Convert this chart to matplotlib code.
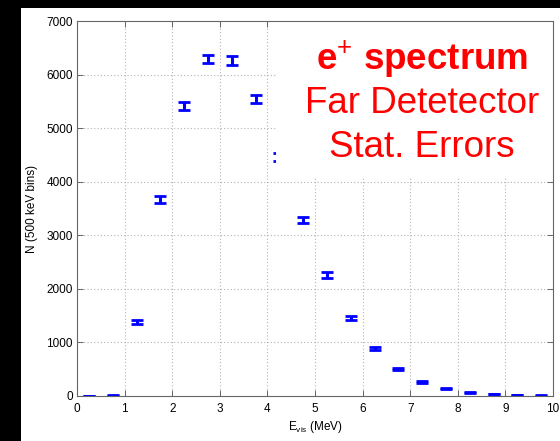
import matplotlib
matplotlib.use("Agg")
import matplotlib.pyplot as plt
from matplotlib.patches import Rectangle

plt.rcParams['font.family'] = ['Liberation Sans', 'DejaVu Sans']
plt.rcParams['mathtext.fontset'] = 'custom'
plt.rcParams['mathtext.rm'] = 'Liberation Sans'
plt.rcParams['mathtext.it'] = 'Liberation Sans:italic'
plt.rcParams['mathtext.bf'] = 'Liberation Sans:bold'

# Visible-energy bin centres (MeV) and counts per 500 keV bin
energy = [0.25, 0.75, 1.25, 1.75, 2.25, 2.75, 3.25, 3.75, 4.25, 4.75,
          5.25, 5.75, 6.25, 6.75, 7.25, 7.75, 8.25, 8.75, 9.25, 9.75]
counts = [5, 10, 1390, 3670, 5415, 6290, 6260, 5550, 4460, 3290,
          2260, 1450, 880, 500, 265, 140, 70, 35, 18, 8]
stat_err = [2, 3, 37, 61, 74, 79, 79, 75, 67, 57,
            48, 38, 30, 22, 16, 12, 8, 6, 4, 3]

xticks = list(range(0, 11))
yticks = list(range(0, 7001, 1000))

fig = plt.figure(figsize=(5.6, 4.41), dpi=100, facecolor='black')
fig.patches.append(Rectangle((21 / 560, 0), 1 - 21 / 560, 1 - 8 / 441,
                             transform=fig.transFigure, facecolor='white',
                             edgecolor='none', zorder=-5))

ax = fig.add_axes([77 / 560, 45 / 441, 476 / 560, 375 / 441])
ax.set_zorder(1)
ax.set_xlim(0, 10)
ax.set_ylim(0, 7000)
ax.set_xticks(xticks)
ax.set_yticks(yticks)

# dotted grid drawn beneath the data and the label box
for xv in xticks[1:-1]:
    ax.axvline(xv, color='#b4b4b4', linestyle=(0, (1, 2)), linewidth=0.8, zorder=0.5)
for yv in yticks[1:-1]:
    ax.axhline(yv, color='#b4b4b4', linestyle=(0, (1, 2)), linewidth=0.8, zorder=0.5)

ax.errorbar(energy, counts, yerr=stat_err, fmt='none', ecolor='#0000ff',
            elinewidth=2.2, capsize=4.2, capthick=2.0, zorder=2.0)

# white label panel in the upper-right corner
ax.add_patch(Rectangle((0.418, 0.584), 0.582, 0.416, transform=ax.transAxes,
                       facecolor='white', edgecolor='none', zorder=2.2))
ax.text(0.725, 0.869, r'e$^{+}$ spectrum', transform=ax.transAxes, color='#ff0000',
        fontsize=26.5, fontweight='bold', ha='center', va='baseline', zorder=3)
ax.text(0.725, 0.755, 'Far Detetector', transform=ax.transAxes, color='#ff0000',
        fontsize=26.5, ha='center', va='baseline', zorder=3)
ax.text(0.725, 0.637, 'Stat. Errors', transform=ax.transAxes, color='#ff0000',
        fontsize=26.5, ha='center', va='baseline', zorder=3)

for s in ax.spines.values():
    s.set_color('#666666')
    s.set_linewidth(0.8)
ax.tick_params(direction='in', length=4, width=0.7, color='#666666',
               top=True, right=True, labelsize=8.5, labelcolor='black')
ax.tick_params(axis='x', pad=5)
ax.tick_params(axis='y', pad=3)

ax.set_xlabel(r'E$_{\mathrm{vis}}$ (MeV)', fontsize=8.5, labelpad=3)
ax.set_ylabel('N (500 keV bins)', fontsize=8.5, labelpad=6)

fig.savefig('out.png', dpi=100, facecolor=fig.get_facecolor())
